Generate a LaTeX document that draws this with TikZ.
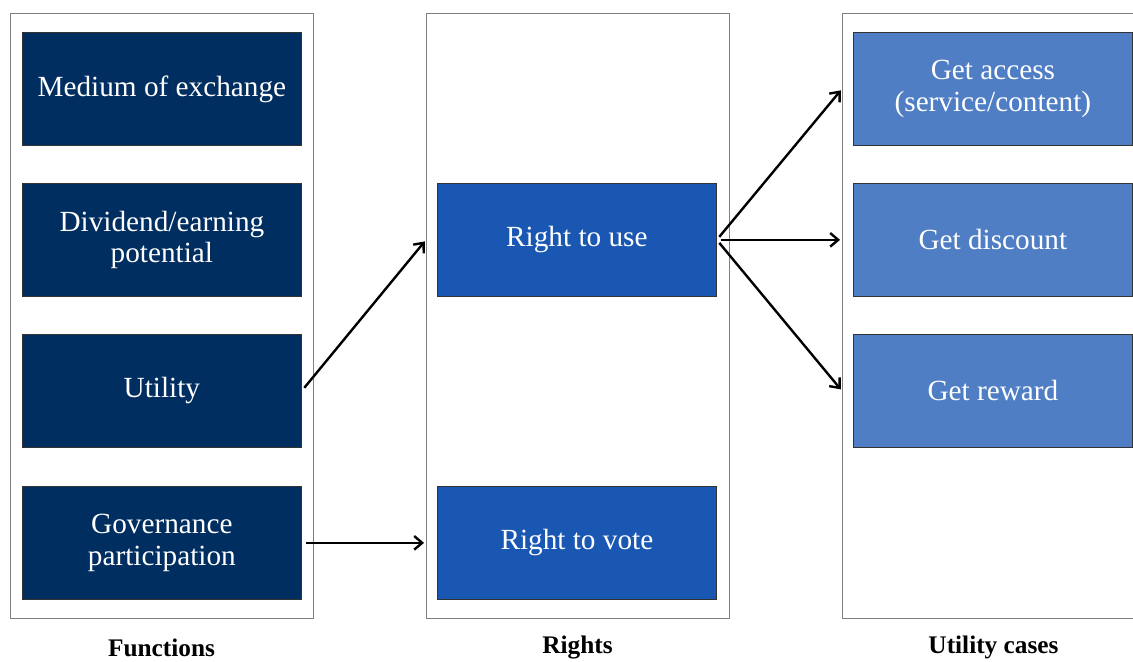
\documentclass[tikz,border=0pt]{standalone}
\usepackage{fontspec}
\setmainfont{Liberation Serif}
\usepackage{tikz}
\usetikzlibrary{positioning,arrows.meta}
\usepackage{xcolor}

\definecolor{navy}{RGB}{1,46,96}
\definecolor{midblue}{RGB}{25,87,179}
\definecolor{lightblue}{RGB}{79,126,196}

\begin{document}
\begin{tikzpicture}[x=0.025cm, y=-0.025cm,
		frame/.style={draw=black!50, line width=0.8pt, anchor=north west, inner sep=0pt, minimum width=7.575cm, minimum height=15.125cm},
		box/.style={draw=black!80, line width=0.5pt, anchor=north west, inner sep=0pt, minimum width=6.975cm, minimum height=2.825cm, text=white, align=center, font=\fontsize{20.8}{22.5}\selectfont},
		caption/.style={anchor=base, inner sep=1pt, font=\bfseries\fontsize{18}{20}\selectfont},
		arr/.style={->, line width=1.7pt, shorten <=2.8pt, shorten >=1.4pt},
		>={Straight Barb[length=2mm, width=3.4mm]}]

			\useasboundingbox (0, 0) rectangle (1133, 662);
			\clip (0, 0) rectangle (1133, 662);

			\node[frame] (functions) at (10, 13) {};
			\node[frame] (rights) at (426, 13) {};
			\node[frame] (cases) at (842, 13) {};

			\node[box, fill=navy] (medium) at (22, 32) {Medium of exchange};
			\node[box, fill=navy] (dividend) at (22, 183) {Dividend/earning\\potential};
			\node[box, fill=navy] (utility) at (22, 334) {Utility};
			\node[box, fill=navy] (governance) at (22, 486) {Governance\\participation};

			\node[box, fill=midblue] (use) at (437, 183) {Right to use};
			\node[box, fill=midblue] (vote) at (437, 486) {Right to vote};

			\node[box, fill=lightblue] (access) at (853, 32) {Get access\\(service/content)};
			\node[box, fill=lightblue] (discount) at (853, 183) {Get discount};
			\node[box, fill=lightblue] (reward) at (853, 334) {Get reward};

			\node[caption] (functionslabel) at (161.5, 656) {Functions};
			\node[caption] (rightslabel) at (577.5, 653) {Rights};
			\node[caption] (caseslabel) at (993.5, 653) {Utility cases};

			\draw[arr] (utility.east) -- (rights.west |- use.west);
			\draw[arr] (governance.east) -- (rights.west |- vote.west);

			\foreach \Case in {access, discount, reward}
			{
					\draw[arr] (use.east) -- (cases.west |- \Case.west);
			}

		\end{tikzpicture}
\end{document}
